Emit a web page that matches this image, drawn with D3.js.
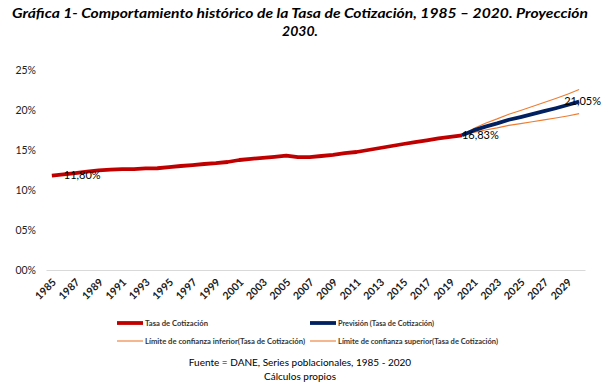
<!DOCTYPE html>
<html><head><meta charset="utf-8">
<script src="https://cdn.jsdelivr.net/npm/d3@7"></script>
<style>
body{margin:0;background:#fff;}
svg{display:block;font-family:Lato,"Open Sans",sans-serif;}
</style></head>
<body>
<svg id="c" width="613" height="386"></svg>
<script>
const years = d3.range(1985, 2031);
const histYears = d3.range(1985, 2021);
const histValues = [11.80,11.95,12.10,12.30,12.45,12.55,12.60,12.62,12.70,12.72,
  12.85,13.00,13.12,13.25,13.35,13.50,13.75,13.90,14.02,14.15,
  14.30,14.10,14.12,14.25,14.40,14.60,14.75,15.00,15.25,15.50,
  15.75,15.98,16.20,16.45,16.65,16.83];
const fcYears = d3.range(2020, 2031);
const fcValues = [16.83,17.45,17.92,18.33,18.78,19.12,19.48,19.85,20.22,20.62,21.05];
const upperValues = [16.83,17.70,18.34,18.89,19.48,19.94,20.43,20.93,21.44,21.98,22.55];
const lowerValues = [16.83,17.20,17.50,17.77,18.08,18.30,18.53,18.77,19.00,19.26,19.55];
const yTicks = [0,5,10,15,20,25];
const yTickLabels = ["00%","05%","10%","15%","20%","25%"];
const xTickYears = d3.range(1985, 2031, 2);
const dataLabels = [{year:1985, value:11.80, text:"11,80%"},{year:2020, value:16.83, text:"16,83%"},{year:2030, value:21.05, text:"21,05%"}];
const legendItems = ["Tasa de Cotización","Previsión (Tasa de Cotización)","Límite de confianza inferior(Tasa de Cotización)","Límite de confianza superior(Tasa de Cotización)"];
const titleLines = ["Gráfica 1- Comportamiento histórico de la Tasa de Cotización, 1985 – 2020. Proyección","2030."];
const footerLines = ["Fuente = DANE, Series poblacionales, 1985 - 2020","Cálculos propios"];

const svg = d3.select("#c");
const x = d3.scaleBand().domain(years).range([46,585]);
const y = d3.scaleLinear().domain([0,25]).range([270,70]);
const cx = d => x(d) + x.bandwidth()/2;

// title
svg.append("text").attr("x",300).attr("y",18).attr("text-anchor","middle")
  .attr("font-size",14).attr("font-weight","bold").attr("font-style","italic").attr("fill","#000")
  .attr("textLength",576).attr("lengthAdjust","spacingAndGlyphs")
  .text(titleLines[0]);
svg.append("text").attr("x",300).attr("y",36).attr("text-anchor","middle")
  .attr("font-size",14).attr("font-weight","bold").attr("font-style","italic").attr("fill","#000")
  .text(titleLines[1]);

// y labels
svg.append("g").selectAll("text").data(yTicks).join("text")
  .attr("x",36).attr("y",d=>y(d)).attr("dy","0.35em").attr("text-anchor","end")
  .attr("font-size",10.5).attr("fill","#222").text((d,i)=>yTickLabels[i]);

// x axis
const xa = svg.append("g").attr("transform","translate(0,270)")
  .call(d3.axisBottom(x).tickValues(xTickYears).tickSize(0).tickPadding(0));
xa.select(".domain").attr("stroke","#d9d9d9").attr("stroke-width",1);
xa.selectAll(".tick text").attr("font-size",10.5).attr("font-weight","bold").attr("fill","#1a1a1a")
  .attr("font-family","Lato,sans-serif")
  .attr("text-anchor","end").attr("dy",0).attr("y",0)
  .attr("transform","translate(5,13) rotate(-45)");

// lines
const line = d3.line().x(d=>cx(d[0])).y(d=>y(d[1]));
svg.append("path").datum(fcYears.map((d,i)=>[d,upperValues[i]])).attr("d",line)
  .attr("fill","none").attr("stroke","#ed7d31").attr("stroke-width",1.1);
svg.append("path").datum(fcYears.map((d,i)=>[d,lowerValues[i]])).attr("d",line)
  .attr("fill","none").attr("stroke","#ed7d31").attr("stroke-width",1.1);
svg.append("path").datum(histYears.map((d,i)=>[d,histValues[i]])).attr("d",line)
  .attr("fill","none").attr("stroke","#c00000").attr("stroke-width",3.8).attr("stroke-linejoin","round");
svg.append("path").datum(fcYears.map((d,i)=>[d,fcValues[i]])).attr("d",line)
  .attr("fill","none").attr("stroke","#002060").attr("stroke-width",3.8).attr("stroke-linejoin","round");

// data labels
const labOff = [12, 0, -15];
svg.append("g").selectAll("text").data(dataLabels).join("text")
  .attr("x",(d,i)=>cx(d.year)+labOff[i]).attr("y",d=>y(d.value)).attr("dy","0.35em")
  .attr("font-size",11).attr("fill","#000").text(d=>d.text);

// legend
const lg = svg.append("g").attr("font-size",7.5).attr("font-weight","bold").attr("fill","#333");
const lpos = [[117,323],[310,323],[117,341],[310,341]];
const lcol = ["#c00000","#002060","#ed7d31","#ed7d31"];
const lw = [3.8,3.8,1.1,1.1];
const tw = [63,96,160,160];
legendItems.forEach((t,i)=>{
  lg.append("line").attr("x1",lpos[i][0]).attr("x2",lpos[i][0]+26).attr("y1",lpos[i][1]).attr("y2",lpos[i][1])
    .attr("stroke",lcol[i]).attr("stroke-width",lw[i]);
  lg.append("text").attr("x",lpos[i][0]+28).attr("y",lpos[i][1]).attr("dy","0.35em")
    .attr("textLength",tw[i]).attr("lengthAdjust","spacingAndGlyphs").text(t);
});

// footer
svg.append("g").selectAll("text").data(footerLines).join("text")
  .attr("x",300).attr("y",(d,i)=>362+i*14).attr("dy","0.35em").attr("text-anchor","middle")
  .attr("font-size",10).attr("fill","#000").text(d=>d);
</script>
</body></html>
